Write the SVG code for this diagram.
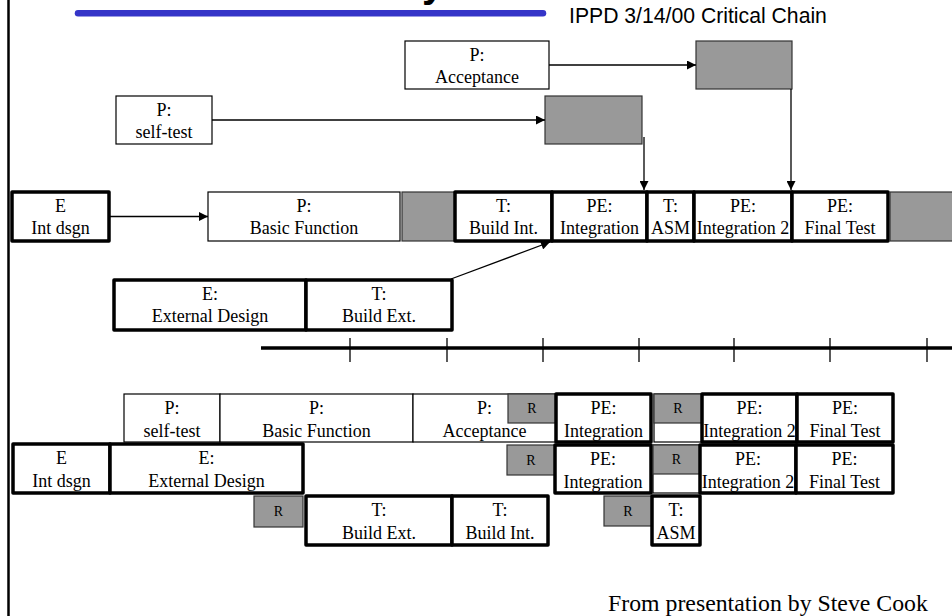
<svg xmlns="http://www.w3.org/2000/svg" width="952" height="616" viewBox="0 0 952 616">
  <style>
    .thin { fill: #ffffff; stroke: #000000; stroke-width: 1.2; }
    .thick { fill: #ffffff; stroke: #000000; stroke-width: 3.5; stroke-linejoin: round; }
    .buf { fill: #999999; stroke: #333333; stroke-width: 1.2; }
    .lbl { font-family: "Liberation Serif", "Times New Roman", serif; font-size: 18px; fill: #000000; text-anchor: middle; }
    .r { font-family: "Liberation Serif", "Times New Roman", serif; font-size: 14px; fill: #000000; text-anchor: middle; }
    .conn { stroke: #000000; stroke-width: 1.3; fill: none; }
  </style>
  <defs>
    <marker id="arrow" viewBox="0 0 10 10" refX="10" refY="5" markerWidth="10" markerHeight="9" markerUnits="userSpaceOnUse" orient="auto">
      <path d="M0,0 L10,5 L0,10 Z" fill="#000000"/>
    </marker>
  </defs>

  <rect width="952" height="616" fill="#ffffff"/>

  <!-- page frame and heading -->
  <line x1="8.5" y1="0" x2="8.5" y2="616" stroke="#000000" stroke-width="2.5"/>
  <text x="422" y="-3.5" font-family="Liberation Sans, Arial, sans-serif" font-size="40" font-weight="bold">y</text>
  <line x1="78" y1="13.3" x2="543" y2="13.3" stroke="#3535c8" stroke-width="6.5" stroke-linecap="round"/>
  <text x="569" y="23" font-family="Liberation Sans, Arial, sans-serif" font-size="21.2" fill="#000000">IPPD 3/14/00 Critical Chain</text>

  <!-- feeding chains -->
  <g id="acceptance-top">
    <rect class="thin" x="405" y="41" width="144" height="48"/>
    <text class="lbl" x="477" y="61">P:</text>
    <text class="lbl" x="477" y="83">Acceptance</text>
  </g>
  <g id="buffer-acceptance">
    <rect class="buf" x="696" y="41" width="96" height="48"/>
  </g>
  <g id="selftest-top">
    <rect class="thin" x="116" y="96" width="96" height="48"/>
    <text class="lbl" x="164" y="116">P:</text>
    <text class="lbl" x="164" y="138">self-test</text>
  </g>
  <g id="buffer-selftest">
    <rect class="buf" x="545" y="96" width="97" height="48"/>
  </g>

  <!-- critical chain -->
  <g id="int-dsgn-top">
    <rect class="thick" x="12" y="192" width="97" height="49"/>
    <text class="lbl" x="60.5" y="212">E</text>
    <text class="lbl" x="60.5" y="234">Int dsgn</text>
  </g>
  <g id="basic-function-top">
    <rect class="thin" x="208" y="192" width="192" height="49"/>
    <text class="lbl" x="304" y="212">P:</text>
    <text class="lbl" x="304" y="234">Basic Function</text>
  </g>
  <g id="buffer-basic">
    <rect class="buf" x="402" y="192" width="53" height="49"/>
  </g>
  <g id="build-int-top">
    <rect class="thick" x="455" y="192" width="97" height="49"/>
    <text class="lbl" x="503.5" y="212">T:</text>
    <text class="lbl" x="503.5" y="234">Build Int.</text>
  </g>
  <g id="integration-top">
    <rect class="thick" x="552" y="192" width="95" height="49"/>
    <text class="lbl" x="599.5" y="212">PE:</text>
    <text class="lbl" x="599.5" y="234">Integration</text>
  </g>
  <g id="asm-top">
    <rect class="thick" x="647" y="192" width="47" height="49"/>
    <text class="lbl" x="670.5" y="212">T:</text>
    <text class="lbl" x="670.5" y="234">ASM</text>
  </g>
  <g id="integration2-top">
    <rect class="thick" x="694" y="192" width="98" height="49"/>
    <text class="lbl" x="743" y="212">PE:</text>
    <text class="lbl" x="743" y="234">Integration 2</text>
  </g>
  <g id="final-test-top">
    <rect class="thick" x="792" y="192" width="96" height="49"/>
    <text class="lbl" x="840" y="212">PE:</text>
    <text class="lbl" x="840" y="234">Final Test</text>
  </g>
  <g id="buffer-project">
    <rect class="buf" x="890" y="192" width="70" height="49"/>
  </g>

  <!-- external design chain -->
  <g id="external-design-top">
    <rect class="thick" x="114" y="280" width="192" height="50"/>
    <text class="lbl" x="210" y="300">E:</text>
    <text class="lbl" x="210" y="322">External Design</text>
  </g>
  <g id="build-ext-top">
    <rect class="thick" x="306" y="280" width="146" height="50"/>
    <text class="lbl" x="379" y="300">T:</text>
    <text class="lbl" x="379" y="322">Build Ext.</text>
  </g>

  <!-- connectors -->
  <g id="connectors">
    <line class="conn" x1="549" y1="65" x2="696" y2="65" marker-end="url(#arrow)"/>
    <line class="conn" x1="212" y1="120" x2="545" y2="120" marker-end="url(#arrow)"/>
    <line class="conn" x1="644" y1="137" x2="644" y2="190" marker-end="url(#arrow)"/>
    <line class="conn" x1="791" y1="89" x2="791" y2="190" marker-end="url(#arrow)"/>
    <line class="conn" x1="109" y1="216.5" x2="208" y2="216.5" marker-end="url(#arrow)"/>
    <line class="conn" x1="451" y1="279" x2="550" y2="242" marker-end="url(#arrow)"/>
  </g>

  <!-- time axis -->
  <g id="timeline">
    <line x1="261" y1="348" x2="952" y2="348" stroke="#000000" stroke-width="3.5"/>
    <g stroke="#000000" stroke-width="1.3">
      <line x1="350" y1="338" x2="350" y2="362"/>
      <line x1="447" y1="338" x2="447" y2="362"/>
      <line x1="543" y1="338" x2="543" y2="362"/>
      <line x1="639" y1="338" x2="639" y2="362"/>
      <line x1="734" y1="338" x2="734" y2="362"/>
      <line x1="830" y1="338" x2="830" y2="362"/>
      <line x1="927" y1="338" x2="927" y2="362"/>
    </g>
  </g>

  <!-- resource-levelled schedule, row 1 -->
  <g id="selftest-low">
    <rect class="thin" x="124" y="394" width="96" height="48"/>
    <text class="lbl" x="172" y="414">P:</text>
    <text class="lbl" x="172" y="437">self-test</text>
  </g>
  <g id="basic-function-low">
    <rect class="thin" x="220" y="394" width="193" height="48"/>
    <text class="lbl" x="316.5" y="414">P:</text>
    <text class="lbl" x="316.5" y="437">Basic Function</text>
  </g>
  <g id="acceptance-low">
    <rect class="thin" x="413" y="394" width="143" height="48"/>
    <text class="lbl" x="484.5" y="414">P:</text>
    <text class="lbl" x="484.5" y="437">Acceptance</text>
  </g>
  <g id="r1a">
    <rect class="buf" x="508" y="394" width="48" height="29"/>
    <text class="r" x="532" y="413">R</text>
  </g>
  <g id="integration-low1">
    <rect class="thick" x="556" y="394" width="95" height="48"/>
    <text class="lbl" x="603.5" y="414">PE:</text>
    <text class="lbl" x="603.5" y="437">Integration</text>
  </g>
  <g id="r1b">
    <rect class="thin" x="654" y="394" width="48" height="48"/>
    <rect class="buf" x="654" y="394" width="48" height="29"/>
    <text class="r" x="678" y="413">R</text>
  </g>
  <g id="integration2-low1">
    <rect class="thick" x="702" y="394" width="95" height="48"/>
    <text class="lbl" x="749.5" y="414">PE:</text>
    <text class="lbl" x="749.5" y="437">Integration 2</text>
  </g>
  <g id="final-test-low1">
    <rect class="thick" x="797" y="394" width="96" height="48"/>
    <text class="lbl" x="845" y="414">PE:</text>
    <text class="lbl" x="845" y="437">Final Test</text>
  </g>

  <!-- row 2 -->
  <g id="int-dsgn-low">
    <rect class="thick" x="13" y="444" width="97" height="49"/>
    <text class="lbl" x="61.5" y="464">E</text>
    <text class="lbl" x="61.5" y="487">Int dsgn</text>
  </g>
  <g id="external-design-low">
    <rect class="thick" x="110" y="444" width="193" height="49"/>
    <text class="lbl" x="206.5" y="464">E:</text>
    <text class="lbl" x="206.5" y="487">External Design</text>
  </g>
  <g id="r2a">
    <rect class="buf" x="507" y="445" width="48" height="30"/>
    <text class="r" x="531" y="465">R</text>
  </g>
  <g id="integration-low2">
    <rect class="thick" x="555" y="445" width="96" height="48"/>
    <text class="lbl" x="603" y="465">PE:</text>
    <text class="lbl" x="603" y="488">Integration</text>
  </g>
  <g id="r2b">
    <rect class="thin" x="653" y="445" width="47" height="48"/>
    <rect class="buf" x="653" y="445" width="47" height="29"/>
    <text class="r" x="676.5" y="464">R</text>
  </g>
  <g id="integration2-low2">
    <rect class="thick" x="700" y="445" width="96" height="48"/>
    <text class="lbl" x="748" y="465">PE:</text>
    <text class="lbl" x="748" y="488">Integration 2</text>
  </g>
  <g id="final-test-low2">
    <rect class="thick" x="796" y="445" width="97" height="48"/>
    <text class="lbl" x="844.5" y="465">PE:</text>
    <text class="lbl" x="844.5" y="488">Final Test</text>
  </g>

  <!-- row 3 -->
  <g id="r3a">
    <rect class="buf" x="254" y="496" width="49" height="31"/>
    <text class="r" x="278.5" y="516">R</text>
  </g>
  <g id="build-ext-low">
    <rect class="thick" x="306" y="496" width="146" height="49"/>
    <text class="lbl" x="379" y="516">T:</text>
    <text class="lbl" x="379" y="539">Build Ext.</text>
  </g>
  <g id="build-int-low">
    <rect class="thick" x="452" y="496" width="96" height="49"/>
    <text class="lbl" x="500" y="516">T:</text>
    <text class="lbl" x="500" y="539">Build Int.</text>
  </g>
  <g id="r3b">
    <rect class="buf" x="604" y="496" width="48" height="30"/>
    <text class="r" x="628" y="516">R</text>
  </g>
  <g id="asm-low">
    <rect class="thick" x="652" y="496" width="48" height="49"/>
    <text class="lbl" x="676" y="516">T:</text>
    <text class="lbl" x="676" y="539">ASM</text>
  </g>

  <text x="608" y="611" font-family="Liberation Serif, Times New Roman, serif" font-size="23.8" fill="#000000">From presentation by Steve Cook</text>
</svg>
